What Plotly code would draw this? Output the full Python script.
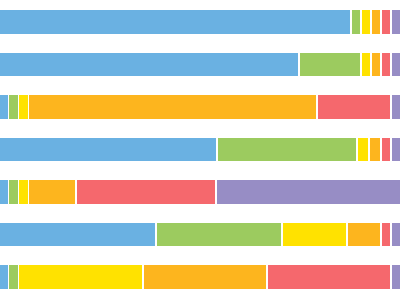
import plotly.graph_objects as go

rows = ["R1", "R2", "R3", "R4", "R5", "R6", "R7"]
series_names = ["Blue", "Green", "Yellow", "Orange", "Red", "Purple"]
colors = ["#6AB1E2", "#9CCB5F", "#FFE200", "#FDB51E", "#F5686D", "#978DC5"]

blue   = [88.1, 75.2, 2.5, 54.6, 2.5, 39.4, 2.5]
green  = [2.5, 15.4, 2.5, 35.0, 2.5, 31.5, 2.5]
yellow = [2.5, 2.5, 2.5, 3.0, 2.5, 16.2, 31.1]
orange = [2.5, 2.5, 72.1, 3.0, 11.9, 8.5, 31.0]
red    = [2.5, 2.5, 18.5, 2.5, 35.0, 2.5, 31.0]
purple = [2.5, 2.5, 2.5, 2.5, 46.2, 2.5, 2.5]

series = [blue, green, yellow, orange, red, purple]

fig = go.Figure()
for name, vals, col in zip(series_names, series, colors):
    fig.add_trace(go.Bar(
        y=rows, x=vals, name=name, orientation="h",
        marker=dict(color=col, line=dict(color="white", width=1.5)),
        hoverinfo="skip",
    ))

fig.update_layout(
    barmode="stack",
    bargap=0.41,
    width=400, height=300,
    margin=dict(l=0, r=0, t=1, b=2),
    paper_bgcolor="white", plot_bgcolor="white",
    showlegend=False,
    xaxis=dict(range=[0.4, 100.4], visible=False, fixedrange=True),
    yaxis=dict(autorange="reversed", visible=False, fixedrange=True),
)

fig.write_html("out.html", config={"displayModeBar": False})
